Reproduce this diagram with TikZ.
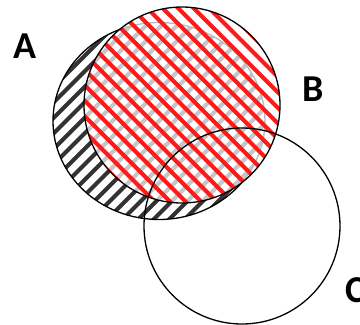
\documentclass[tikz,border=0pt]{standalone}
\usepackage{fontspec}
\setmainfont{Carlito}
\usepackage{tikz}
\usetikzlibrary{shapes.geometric}
\tikzstyle{set} = [draw=black, line width=1.3pt, inner sep=0pt]
\tikzstyle{hatch} = [line width=4.2pt]
\tikzstyle{lbl} = [inner sep=0pt, font=\bfseries\fontsize{38}{40}\selectfont]

\begin{document}
\begin{tikzpicture}[x=1pt, y=-1pt]
    \useasboundingbox (0,0) rectangle (360,325);
    % Sets
    \node [set, ellipse, minimum width=212pt, minimum height=197pt,
        path picture={
            \foreach \k in {-20,...,20}
                \draw [hatch, black!80] ([shift={(\k*15.5,0)}]path picture bounding box.center) ++(-160,160) -- ++(320,-320);
        }] (A) at (159,121) {};
    \node [set, circle, minimum size=196pt, fill=white, fill opacity=0.72,
        path picture={
            \foreach \k in {-20,...,20}
                \draw [hatch, red!90!white, opacity=1] ([shift={(\k*15.5,0)}]path picture bounding box.center) ++(-160,-160) -- ++(320,320);
        }] (B) at (182,105) {};
    \node [set, circle, minimum size=196pt] (C) at (242,226) {};

    % Labels
    \node [lbl] (labA) at (25,46) {A};
    \node [lbl] (labB) at (313,89) {B};
    \node [lbl, anchor=west] (labC) at (345,290) {C};
\end{tikzpicture}
\end{document}
